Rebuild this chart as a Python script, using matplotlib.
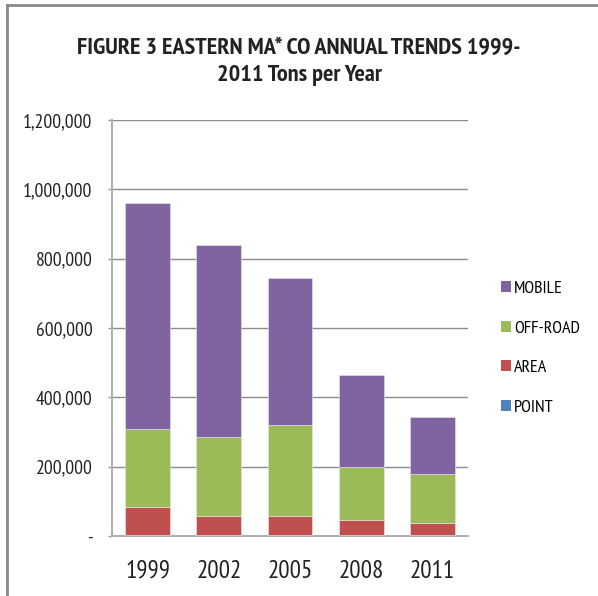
import matplotlib
matplotlib.use("Agg")
import matplotlib.pyplot as plt
from matplotlib.lines import Line2D
from matplotlib.patches import Patch
import numpy as np

plt.rcParams['font.family'] = ['PT Sans Narrow', 'DejaVu Sans']

# dados (toneladas por ano)
years = ["1999", "2002", "2005", "2008", "2011"]
point = [2000, 2000, 2000, 2000, 2000]
area = [82000, 57000, 57000, 43000, 35000]
offroad = [225000, 226000, 261000, 154000, 141000]
mobile = [653000, 555000, 424000, 265000, 165000]
yticks = [0, 200000, 400000, 600000, 800000, 1000000, 1200000]
ytick_labels = ["-", "200,000", "400,000", "600,000", "800,000", "1,000,000", "1,200,000"]

series = [("POINT", point, "#4F81BD"),
          ("AREA", area, "#C0504D"),
          ("OFF-ROAD", offroad, "#9BBB59"),
          ("MOBILE", mobile, "#8064A2")]

fig = plt.figure(figsize=(5.98, 5.96), dpi=100)
ax = fig.add_axes([112 / 598, 1 - 536 / 596, 356 / 598, 416 / 596])

x = np.arange(len(years))
bottom = np.zeros(len(years))
for name, vals, col in series:
    ax.bar(x, vals, width=0.63, bottom=bottom, color=col, edgecolor="#e8e8e8",
           linewidth=0.4, zorder=3)
    bottom += np.array(vals)

ax.set_xlim(-0.5, len(years) - 0.5)
ax.set_ylim(0, 1200000)
ax.set_yticks(yticks)
ax.set_yticklabels(ytick_labels, fontsize=14, color="#222222")
ax.set_xticks(x)
ax.set_xticklabels(years, fontsize=18, color="#222222")
ax.tick_params(axis="x", length=0, pad=17)
ax.tick_params(axis="y", length=3, color="#999999", width=1, pad=11)
ax.grid(axis="y", color="#8c8c8c", linewidth=1, zorder=0)
for s in ["top", "right"]:
    ax.spines[s].set_visible(False)
for s in ["left", "bottom"]:
    ax.spines[s].set_color("#b0b0b0")
    ax.spines[s].set_linewidth(1.5)

fig.text(0.5, 1 - 48 / 596, "FIGURE 3 EASTERN MA* CO ANNUAL TRENDS 1999-",
         ha="center", va="center", fontsize=17.5, fontweight="bold", color="#222222")
fig.text(0.5, 1 - 76 / 596, "2011 Tons per Year",
         ha="center", va="center", fontsize=17.5, fontweight="bold", color="#222222")

handles = [Patch(facecolor=col, label=name) for name, _, col in series[::-1]]
fig.legend(handles=handles, loc="upper left", bbox_to_anchor=(485 / 598, 1 - 265 / 596),
           frameon=False, fontsize=13, handlelength=0.55, handleheight=0.55,
           handletextpad=0.15, labelspacing=1.3)

# moldura cinza (lado esquerdo e topo)
fig.add_artist(Line2D([7 / 598, 7 / 598], [0, 1 - 5 / 596], color="#8a8a8a", linewidth=2,
                      transform=fig.transFigure))
fig.add_artist(Line2D([7 / 598, 1], [1 - 5 / 596, 1 - 5 / 596], color="#8a8a8a", linewidth=2,
                      transform=fig.transFigure))

fig.savefig("out.png", dpi=100)
